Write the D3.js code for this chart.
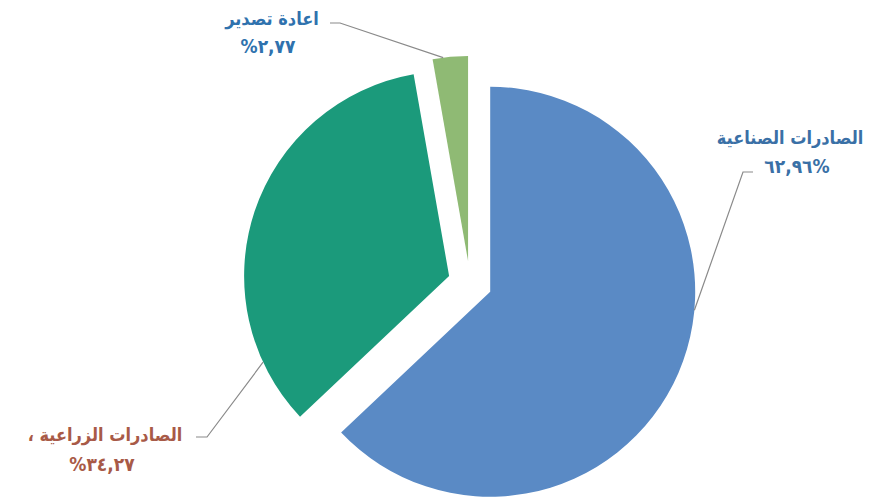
<!DOCTYPE html>
<html>
<head>
<meta charset="utf-8">
<script src="https://cdn.jsdelivr.net/npm/d3@7"></script>
<style>
  html, body { margin: 0; padding: 0; background: #ffffff; }
  svg { display: block; }
</style>
</head>
<body>
<svg id="chart" width="884" height="502"></svg>
<script>
// Export structure: share of each export type (%)
const categories = ["الصادرات الصناعية", "الصادرات الزراعية ،", "اعادة تصدير"];
const shares = [62.96, 34.27, 2.77];
const sliceColors = ["#5a8ac5", "#1b9a7b", "#8fba74"];
const labelColors = ["#3a70a6", "#a85a47", "#2f72ae"];

const W = 884, H = 502;
const cx = 470, cy = 283, radius = 205, explode = 22;

const svg = d3.select("#chart");

// Arabic-Indic digits for the percentage labels
const arabicDigits = "٠١٢٣٤٥٦٧٨٩";
const toArabic = s => s.replace(/[0-9]/g, d => arabicDigits[+d]);
const fmtShare = v => toArabic(d3.format(".2f")(v).replace(".", ","));

const pie = d3.pie().sort(null).value(d => d.value).startAngle(0).endAngle(2 * Math.PI);
const data = categories.map((c, i) => ({ name: c, value: shares[i], i }));
const arcs = pie(data);

const arc = d3.arc().innerRadius(0).outerRadius(radius);

const offset = a => {
  const mid = (a.startAngle + a.endAngle) / 2;
  return [explode * Math.sin(mid), -explode * Math.cos(mid)];
};

const g = svg.append("g").attr("transform", `translate(${cx},${cy})`);

g.selectAll("path.slice")
  .data(arcs)
  .join("path")
  .attr("class", "slice")
  .attr("d", arc)
  .attr("fill", d => sliceColors[d.data.i])
  .attr("transform", d => { const o = offset(d); return `translate(${o[0]},${o[1]})`; });

// Label layout: text position, elbow of the leader line, and where on the slice's arc it lands
const labelLayout = [
  { x: 790, y1: 144, y2: 173, pctDir: "ltr", pctX: 797, size: 18, pctSize: 19, spacing: 0, pctSpacing: 1,
    elbow: [[753, 172], [743, 172]], arcFrac: 0.42 },
  { x: 105, y1: 441, y2: 471, pctDir: "rtl", pctX: 102, size: 18, pctSize: 19, spacing: 2.5, pctSpacing: 3,
    elbow: [[196, 437], [207, 437]], arcFrac: 0.15 },
  { x: 272, y1: 25, y2: 53, pctDir: "rtl", pctX: 268, size: 18, pctSize: 19, spacing: 0, pctSpacing: 1,
    elbow: [[330, 23], [340, 23]], arcFrac: 0.3 }
];

arcs.forEach(a => {
  const L = labelLayout[a.data.i];
  const o = offset(a);
  const ang = a.startAngle + (a.endAngle - a.startAngle) * L.arcFrac;
  const px = cx + o[0] + radius * Math.sin(ang);
  const py = cy + o[1] - radius * Math.cos(ang);
  const pts = [...L.elbow, [px, py]];

  svg.append("path")
    .attr("d", d3.line()(pts))
    .attr("fill", "none")
    .attr("stroke", "#8a8a8a")
    .attr("stroke-width", 1.2);

  svg.append("text")
    .attr("x", L.x).attr("y", L.y1)
    .attr("direction", "rtl")
    .attr("text-anchor", "middle")
    .attr("font-family", "DejaVu Sans Condensed, DejaVu Sans, sans-serif")
    .attr("font-size", L.size)
    .attr("font-weight", "bold")
    .attr("letter-spacing", L.spacing)
    .attr("fill", labelColors[a.data.i])
    .text(a.data.name);

  svg.append("text")
    .attr("x", L.pctX).attr("y", L.y2)
    .attr("direction", L.pctDir)
    .attr("text-anchor", "middle")
    .attr("font-family", "DejaVu Sans Condensed, DejaVu Sans, sans-serif")
    .attr("font-size", L.pctSize)
    .attr("font-weight", "bold")
    .attr("letter-spacing", L.pctSpacing)
    .attr("fill", labelColors[a.data.i])
    .text(fmtShare(a.data.value) + "%");
});
</script>
</body>
</html>
